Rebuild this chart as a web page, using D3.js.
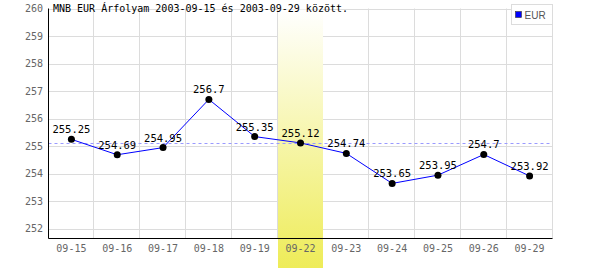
<!DOCTYPE html>
<html>
<head>
<meta charset="utf-8">
<script src="https://cdn.jsdelivr.net/npm/d3@7"></script>
<style>
  body { margin: 0; background: #fff; }
  svg { display: block; }
</style>
</head>
<body>
<svg width="600" height="270"></svg>
<script>
(function () {
    'use strict';

    // data
    var days = ['09-15', '09-16', '09-17', '09-18', '09-19', '09-22', '09-23', '09-24', '09-25', '09-26', '09-29'];
    var eur = [255.25, 254.69, 254.95, 256.7, 255.35, 255.12, 254.74, 253.65, 253.95, 254.7, 253.92];
    var yTicks = [252, 253, 254, 255, 256, 257, 258, 259, 260];
    var yDomain = [251.65, 260];
    var refValue = 255.1;
    var highlightDay = '09-22';
    var title = 'MNB EUR Árfolyam 2003-09-15 és 2003-09-29 között.';
    var seriesName = 'EUR';

    var svg = d3.select('svg');
    var left = 48.5, right = 552.5, top = 8.5, bottom = 238.5;
    var mono = '"DejaVu Sans Mono", monospace';

    var x = d3.scaleBand().domain(days).range([left, right]);
    var y = d3.scaleLinear().domain(yDomain).range([bottom, top]);

    var defs = svg.append('defs');
    var grad = defs.append('linearGradient')
        .attr('id', 'hl')
        .attr('x1', 0).attr('y1', 0).attr('x2', 0).attr('y2', 1);
    grad.append('stop').attr('offset', '0%').attr('stop-color', '#ffffff');
    grad.append('stop').attr('offset', '100%').attr('stop-color', '#eeec58');

    // grid
    var grid = svg.append('g').attr('stroke', '#dcdcdc').attr('stroke-width', 1);
    grid.selectAll('.h').data(yTicks).enter().append('line')
        .attr('x1', left).attr('x2', right)
        .attr('y1', function (d) { return Math.round(y(d)) + 0.5; })
        .attr('y2', function (d) { return Math.round(y(d)) + 0.5; });
    grid.selectAll('.v').data(days).enter().append('line')
        .attr('x1', function (d) { return Math.round(x(d) + x.bandwidth()) - 0.5; })
        .attr('x2', function (d) { return Math.round(x(d) + x.bandwidth()) - 0.5; })
        .attr('y1', top).attr('y2', bottom);

    // highlighted day
    svg.append('rect')
        .attr('x', Math.round(x(highlightDay)))
        .attr('y', top + 1)
        .attr('width', Math.round(x.bandwidth()) - 1)
        .attr('height', 267 - top)
        .attr('fill', 'url(#hl)');

    // reference line
    svg.append('line')
        .attr('x1', left).attr('x2', right)
        .attr('y1', Math.round(y(refValue)) + 0.5)
        .attr('y2', Math.round(y(refValue)) + 0.5)
        .attr('stroke', '#9a9aff')
        .attr('stroke-dasharray', '3,3');

    // axes
    svg.append('line')
        .attr('x1', left).attr('x2', left).attr('y1', top).attr('y2', bottom)
        .attr('stroke', '#000');
    svg.append('line')
        .attr('x1', left).attr('x2', right).attr('y1', bottom).attr('y2', bottom)
        .attr('stroke', '#000');

    svg.append('g').selectAll('text').data(yTicks).enter().append('text')
        .attr('x', 43)
        .attr('y', function (d) { return y(d); })
        .attr('dy', '0.35em')
        .attr('text-anchor', 'end')
        .attr('font-family', mono)
        .attr('font-size', 10)
        .attr('fill', '#666')
        .text(function (d) { return d; });

    svg.append('g').selectAll('text').data(days).enter().append('text')
        .attr('x', function (d) { return x(d) + x.bandwidth() / 2; })
        .attr('y', 252)
        .attr('text-anchor', 'middle')
        .attr('font-family', mono)
        .attr('font-size', 10)
        .attr('fill', '#666')
        .text(function (d) { return d; });

    // series
    var pts = days.map(function (d, i) { return [x(d) + x.bandwidth() / 2, y(eur[i]), eur[i]]; });
    svg.append('path')
        .attr('d', d3.line()(pts))
        .attr('fill', 'none')
        .attr('stroke', '#0000ff')
        .attr('stroke-width', 1);
    svg.append('g').selectAll('circle').data(pts).enter().append('circle')
        .attr('cx', function (p) { return p[0]; })
        .attr('cy', function (p) { return p[1]; })
        .attr('r', 3.5)
        .attr('fill', '#000');
    svg.append('g').selectAll('text').data(pts).enter().append('text')
        .attr('x', function (p) { return p[0]; })
        .attr('y', function (p) { return p[1] - 6; })
        .attr('text-anchor', 'middle')
        .attr('font-family', mono)
        .attr('font-size', 10.5)
        .attr('fill', '#000')
        .text(function (p) { return p[2]; });

    // title
    svg.append('text')
        .attr('x', 53).attr('y', 12)
        .attr('font-family', mono)
        .attr('font-size', 10)
        .attr('fill', '#000')
        .text(title);

    // legend
    var lg = svg.append('g').attr('transform', 'translate(511.5, 4.5)');
    lg.append('rect').attr('width', 41).attr('height', 20)
        .attr('fill', '#fff').attr('stroke', '#dcdcdc');
    lg.append('rect').attr('x', 4).attr('y', 7).attr('width', 6).attr('height', 6)
        .attr('fill', '#0000ff').attr('stroke', '#333').attr('stroke-width', 0.6);
    lg.append('text').attr('x', 13).attr('y', 14)
        .attr('font-family', '"Liberation Sans", Arial, sans-serif')
        .attr('font-size', 10)
        .attr('fill', '#555')
        .text(seriesName);
}());
</script>
</body>
</html>
